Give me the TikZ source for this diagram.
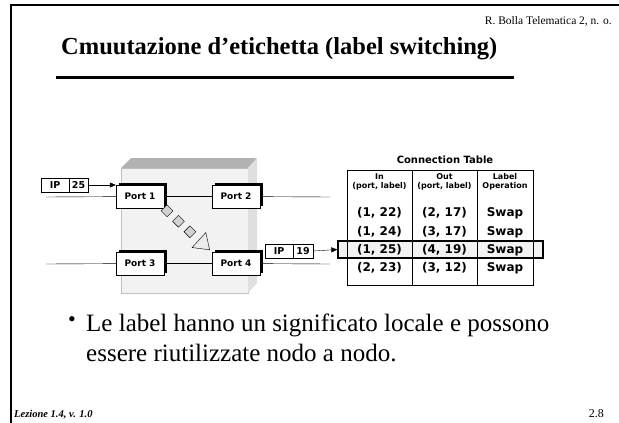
\documentclass[tikz,border=0pt]{standalone}
\usepackage{fontspec}
\setmainfont{Liberation Serif}
\newfontfamily\vsans{DejaVu Sans}
\usetikzlibrary{arrows.meta}
\usetikzlibrary{shadows}
\usetikzlibrary{shapes.geometric}
\usetikzlibrary{decorations.markings}
\usetikzlibrary{positioning}

\begin{document}
\begin{tikzpicture}[x=1pt,y=-1pt,
  port/.style={draw,fill=white,minimum width=48pt,minimum height=23pt,inner sep=0pt,
    font=\vsans\bfseries\fontsize{9}{9}\selectfont,
    general shadow={fill=black,shadow xshift=2.5pt,shadow yshift=2.5pt}},
  pkt/.style={draw,fill=white,minimum height=14pt,inner sep=0pt,font=\vsans\bfseries\fontsize{9.5}{9.5}\selectfont},
  cell/.style={font=\vsans\bfseries\fontsize{12}{12}\selectfont},
  head/.style={font=\vsans\bfseries\fontsize{8}{9.5}\selectfont,align=center},
  tip/.style={-{Triangle[length=6pt,width=5pt]}}]
\useasboundingbox (0,0) rectangle (619,423);

% frame and title
\draw[line width=2pt] (11,423) -- (11,5) -- (619,5);
\node[anchor=base east,inner sep=0pt,font=\fontsize{11.5}{11.5}\selectfont] (auth) at (612,24) {R. Bolla Telematica 2, n. o.};
\node[anchor=base west,inner sep=0pt,font=\bfseries\fontsize{24.5}{24.5}\selectfont] (title) at (61,54) {Cmuutazione d’etichetta (label switching)};
\draw[line width=3pt] (56,77) -- (514,77);

% switch
\fill[gray!10,draw=gray!50] (121,168) rectangle (248,293);
\fill[gray!60] (121,168) -- (131,158) -- (257,158) -- (248,168) -- cycle;
\fill[gray!25] (248,168) -- (257,158) -- (257,283) -- (248,293) -- cycle;

\coordinate (inA) at (46,197);
\coordinate (outA) at (330,197);
\coordinate (inB) at (46,264);
\coordinate (outB) at (330,264);

\node[port] (p1) at (140,196.5) {Port 1};
\node[port] (p2) at (236,196.5) {Port 2};
\node[port] (p3) at (140,263.5) {Port 3};
\node[port] (p4) at (236,263.5) {Port 4};

\draw (inA) -- (p1);
\draw (p1) -- (p2);
\draw (p2) -- (outA);
\draw (inB) -- (p3);
\draw (p3) -- (p4);
\draw (p4) -- (outB);

% path through the switch
\path[decoration={markings,
   mark=between positions 0.06 and 0.6 step 0.24 with {\node[diamond,draw,fill=gray!35,minimum size=12pt,inner sep=0pt]{};},
   mark=at position 0.96 with {\arrow[draw=black]{Triangle[length=15pt,width=21pt,fill=gray!15]}}},
   postaction={decorate}] (p1.south east) -- (p4.north west);

% incoming packet
\node[pkt,minimum width=28pt] (ipA) at (55,185) {IP};
\node[pkt,minimum width=19pt,right=-0.4pt of ipA] (labA) {25};
\draw[tip] (labA.east) -- (labA.east -| p1.west);

% connection table
\node[font=\vsans\bfseries\fontsize{10}{10}\selectfont] (ttl) at (445,160) {Connection Table};
\node[draw,line width=1.3pt,fill=gray!10,minimum width=205pt,minimum height=17pt,inner sep=0pt] (sel) at (440.5,249.5) {};
\draw (347,170) rectangle (533,285);
\draw (412,170) -- (412,285);
\draw (477,170) -- (477,285);

\node[head] (h1) at (379.5,182) {In\\(port, label)};
\node[head] (h2) at (444.5,182) {Out\\(port, label)};
\node[head] (h3) at (505,182) {Label\\Operation};

\foreach \y/\a/\b [count=\i] in {213/{(1, 22)}/{(2, 17)},232/{(1, 24)}/{(3, 17)},250/{(1, 25)}/{(4, 19)},268/{(2, 23)}/{(3, 12)}}{
  \node[cell] (in\i) at (379.5,\y) {\a};
  \node[cell] (out\i) at (444.5,\y) {\b};
  \node[cell] (op\i) at (505,\y) {Swap};
}

% outgoing packet
\node[pkt,minimum width=28pt] (ipB) at (279,251) {IP};
\node[pkt,minimum width=20pt,right=-0.4pt of ipB] (labB) {19};
\draw[tip] (labB.east) -- (sel.west);

% text
\node[font=\fontsize{22}{22}\selectfont,inner sep=0pt] (bul) at (72,322) {•};
\node[anchor=base west,inner sep=0pt,font=\fontsize{25}{25}\selectfont] (b1) at (86,331) {Le label hanno un significato locale e possono};
\node[anchor=base west,inner sep=0pt,font=\fontsize{25}{25}\selectfont] (b2) at (86,361) {essere riutilizzate nodo a nodo.};

% footer
\node[anchor=base west,inner sep=0pt,font=\bfseries\itshape\fontsize{10.5}{10.5}\selectfont] (lez) at (14,417) {Lezione 1.4, v. 1.0};
\node[anchor=base east,inner sep=0pt,font=\fontsize{12}{12}\selectfont] (pg) at (604,417) {2.8};
\end{tikzpicture}
\end{document}
